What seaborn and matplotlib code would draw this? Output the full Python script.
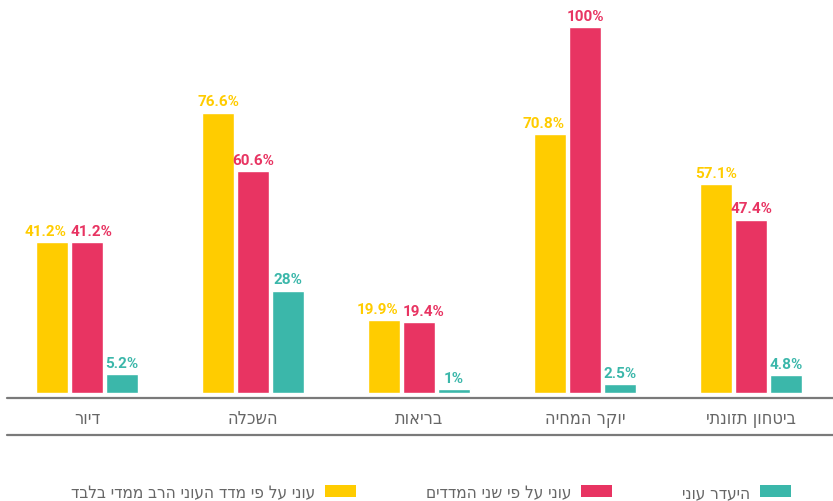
import matplotlib
matplotlib.use("Agg")
import matplotlib.pyplot as plt
import seaborn as sns
import pandas as pd
from matplotlib.patches import Patch
from matplotlib.lines import Line2D

# ---- data ----
categories = ["דיור", "השכלה", "בריאות", "יוקר המחיה", "ביטחון תזונתי"]
series_names = ["עוני על פי מדד העוני הרב ממדי בלבד", "עוני על פי שני המדדים", "היעדר עוני"]
multi_only = [41.2, 76.6, 19.9, 70.8, 57.1]
both_measures = [41.2, 60.6, 19.4, 100, 47.4]
no_poverty = [5.2, 28, 1, 2.5, 4.8]
colors = ["#FFCC00", "#E83462", "#3BB7AA"]


def rtl(s):
    # matplotlib lays text out left-to-right; reverse Hebrew for visual order
    return s[::-1]


rows = []
for series, vals in zip(series_names, [multi_only, both_measures, no_poverty]):
    for c, v in zip(categories, vals):
        rows.append({"category": rtl(c), "series": series, "value": v})
df = pd.DataFrame(rows)

sns.set_theme(style="white")
plt.rcParams["font.family"] = ["DejaVu Sans"]

fig = plt.figure(figsize=(8.33, 5.02), dpi=100)
W, H = 833, 502
ax = fig.add_axes([7 / W, 1 - 399 / H, 1 - 7 / W, 399 / H])

sns.barplot(data=df, x="category", y="value", hue="series",
            hue_order=series_names, palette=colors, width=0.633, gap=0.086,
            saturation=1, legend=False, ax=ax)

# x range: group centres 166 px apart, first centre at px 87
ax.set_xlim(-(87 - 7) / 166, 4 + (833 - 751) / 166)
ppp = 3.66  # pixels per percent
ax.set_ylim(-5 / ppp, 100 + 28 / ppp)

for sp in ax.spines.values():
    sp.set_visible(False)
ax.set_yticks([])
ax.set_ylabel("")
ax.set_xlabel("")
ax.tick_params(axis="x", length=0, pad=8, labelsize=13, labelcolor="#666666")
for t in ax.get_xticklabels():
    t.set_fontstretch("condensed")

# horizontal nudges (points) that keep neighbouring labels apart
nudges = [[-4.5, 0, -4.5, -5, 0],
          [3.5, 0, 3.5, 0, 0],
          [0, 0, 0, 0, 0]]

# value labels
for cont, col, nd in zip(ax.containers, colors, nudges):
    labels = [f"{bar.get_height():g}%" for bar in cont]
    anns = ax.bar_label(cont, labels=labels, padding=3, color=col,
                        fontsize=11, fontweight="bold",
                        family=["Roboto", "DejaVu Sans"])
    for a, dx in zip(anns, nd):
        a.xyann = (dx, a.xyann[1])

# horizontal rules
for ypx in (399, 436):
    fig.add_artist(Line2D([7 / W, 1], [1 - ypx / H] * 2, color="#7a7a7a",
                          linewidth=1.6, transform=fig.transFigure))

# legend (RTL: swatch on the right of text)
handles = [Patch(facecolor=c, edgecolor="none", label=rtl(n))
           for c, n in zip(colors, series_names)]
leg = fig.legend(handles=handles, loc="center right",
                 bbox_to_anchor=(791 / W, 1 - 493 / H), ncol=3,
                 markerfirst=False, frameon=False, fontsize=12.3,
                 handlelength=1.81, handleheight=0.70, handletextpad=0.58,
                 columnspacing=4.1, borderpad=0, borderaxespad=0)
for t in leg.get_texts():
    t.set_color("#666666")
    t.set_fontstretch("condensed")

fig.savefig("out.png", dpi=100)
